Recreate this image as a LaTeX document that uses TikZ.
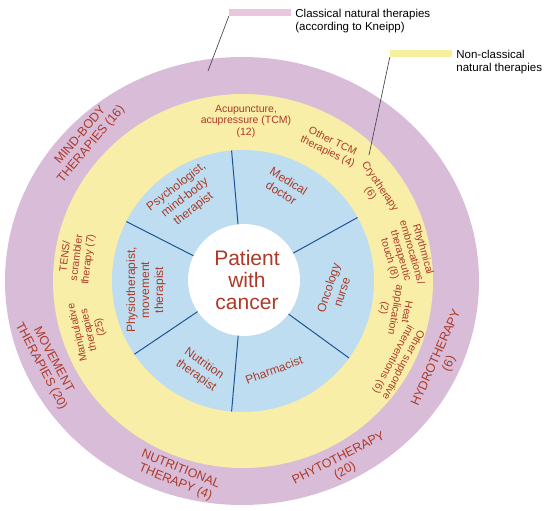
\documentclass[tikz,border=0pt]{standalone}
\usepackage{fontspec}
\setmainfont{Liberation Sans}
\usetikzlibrary{positioning}

\definecolor{ringpurple}{RGB}{216,188,216}
\definecolor{ringyellow}{RGB}{248,238,168}
\definecolor{ringblue}{RGB}{190,221,240}
\definecolor{labelred}{RGB}{172,58,40}
\definecolor{spokeblue}{RGB}{32,82,150}
\definecolor{barpurple}{RGB}{232,198,222}
\definecolor{baryellow}{RGB}{247,239,160}

\begin{document}
\begin{tikzpicture}[x=1pt,y=1pt,
	legbar/.style={inner sep=0pt,minimum width=62,minimum height=7},
	legtext/.style={align=left,inner sep=0pt,font=\fontsize{11.5}{13.5}\selectfont},
	leader/.style={draw=black!70,line width=0.7pt}]
	\useasboundingbox (-243,-230) rectangle (307,281);
	\fill[ringpurple] (-1,0) ellipse [x radius=237, y radius=224];
	\fill[ringyellow] (0,0) ellipse [x radius=190, y radius=187];
	\fill[ringblue] (0,0) circle (131);
	\foreach \a in {95,29,-36,265,214,153}
		\draw[spokeblue,line width=1pt] (\a:50) -- (\a:131);
	\fill[white] (1,1) circle (56);
	
	\node[text=labelred,align=center,font=\fontsize{21}{22}\selectfont] at (4,1) (patient){Patient\\with\\cancer};
	
	\begin{scope}[every node/.style={text=labelred,align=center,inner sep=0pt,font=\fontsize{12}{14}\selectfont}]
	\node[rotate=38] at (-58,83) (psy){Psychologist,\\mind-body\\therapist};
	\node[rotate=-32] at (42,94) (doc){Medical\\doctor};
	\node[rotate=72] at (92,-9) (nurse){Oncology\\nurse};
	\node[rotate=20] at (31,-89) (pharm){Pharmacist};
	\node[rotate=-35] at (-43,-89) (nutr){Nutrition\\therapist};
	\node[rotate=90] at (-97,-9) (physio){Physiotherapist,\\movement\\therapist};
	\end{scope}
	
	\begin{scope}[every node/.style={text=labelred,align=center,inner sep=0pt,font=\fontsize{10.5}{11.5}\selectfont}]
	\node at (3,160) (acu){Acupuncture,\\acupressure (TCM)\\(12)};
	\node[rotate=-26] at (87,134) (tcm){Other TCM\\therapies (4)};
	\node[rotate=-56] at (132,91) (cryo){Cryotherapy\\(6)};
	\node[rotate=-74] at (163,27) (rhyth){Rhythmical\\embrocations/\\therapeutic\\touch (8)};
	\node[rotate=-100] at (152,-29) (heat){Heat\\application\\(2)};
	\node[rotate=-118] at (155,-81) (supp){Other supportive\\interventions (6)};
	\node[rotate=83] at (-166,23) (tens){TENS/\\scrambler\\therapy (7)};
	\node[rotate=103] at (-154,-49) (manip){Manipulative\\therapies\\(25)};
	\end{scope}
	
	\begin{scope}[every node/.style={text=labelred,align=center,inner sep=0pt,font=\fontsize{12.5}{14}\selectfont}]
	\node[rotate=50] at (-157,141) (mind){MIND-BODY\\THERAPIES (16)};
	\node[rotate=-62] at (-196,-82) (move){MOVEMENT\\THERAPIES (20)};
	\node[rotate=-22] at (-65,-195) (nutrth){NUTRITIONAL\\THERAPY (4)};
	\node[rotate=27] at (99,-184) (phyto){PHYTOTHERAPY\\(20)};
	\node[rotate=66] at (200,-80) (hydro){HYDROTHERAPY\\(6)};
	\end{scope}
	
	\node[legbar,fill=barpurple] at (17,268.5) (kneippbar){};
	\node[legtext,right=4pt of kneippbar.north east,anchor=north west] (kneipptext){Classical natural therapies\\(according to Kneipp)};
	\node[legbar,fill=baryellow] at (178,227.5) (otherbar){};
	\node[legtext,right=4pt of otherbar.north east,anchor=north west] (othertext){Non-classical\\natural therapies};
	\coordinate (kneippend) at (-35,210);
	\coordinate (otherend) at (126,126);
	\draw[leader] (kneippbar.south west) -- (kneippend);
	\draw[leader] (otherbar.south west) -- (otherend);
\end{tikzpicture}
\end{document}
